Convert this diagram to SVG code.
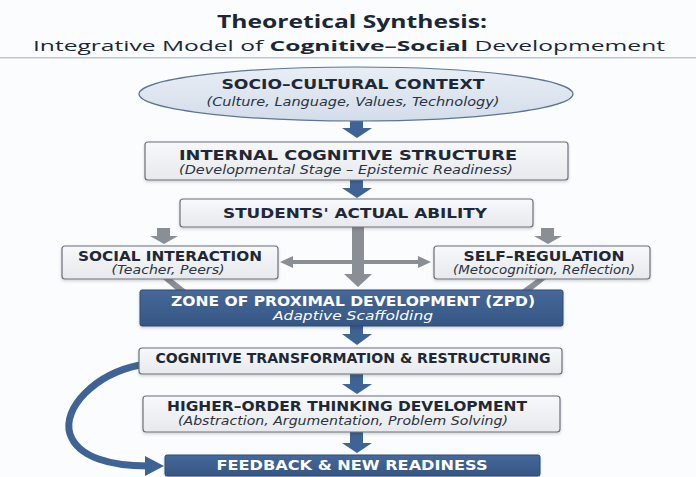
<svg xmlns="http://www.w3.org/2000/svg" width="696" height="477" viewBox="0 0 696 477">
  <defs>
    <linearGradient id="boxFill" x1="0" y1="0" x2="0" y2="1">
      <stop offset="0" stop-color="#f7f8fa"/>
      <stop offset="1" stop-color="#e7e9ec"/>
    </linearGradient>
    <linearGradient id="darkFill" x1="0" y1="0" x2="0" y2="1">
      <stop offset="0" stop-color="#46689a"/>
      <stop offset="1" stop-color="#365683"/>
    </linearGradient>
    <linearGradient id="ellFill" x1="0" y1="0" x2="0" y2="1">
      <stop offset="0" stop-color="#e9eef5"/>
      <stop offset="1" stop-color="#d3ddea"/>
    </linearGradient>
    <filter id="shadow" x="-5%" y="-20%" width="110%" height="150%">
      <feDropShadow dx="0" dy="1.5" stdDeviation="1.5" flood-color="#000" flood-opacity="0.18"/>
    </filter>
  </defs>
  <style>
    .bg { fill: #fbfcfd; }
    .box { fill: url(#boxFill); stroke: #6b717a; stroke-width: 1.2; filter: url(#shadow); }
    .dark { fill: url(#darkFill); stroke: #2f4b74; stroke-width: 1; filter: url(#shadow); }
    .head { font-family: "DejaVu Sans", Verdana, sans-serif; font-weight: bold; font-size: 13.5px; fill: #1e2836; text-anchor: middle; }
    .sub { font-family: "DejaVu Sans", Verdana, sans-serif; font-style: italic; font-size: 12px; fill: #2a3442; text-anchor: middle; }
    .light { fill: #ffffff; }
    .blue { fill: #3f6394; }
    .gray { fill: #8a8e95; }
    .title { font-family: "Open Sans", "Liberation Sans", sans-serif; font-weight: bold; font-size: 18px; fill: #1c2736; text-anchor: middle; }
    .subtitle { font-family: "Open Sans", "Liberation Sans", sans-serif; font-size: 15px; fill: #1c2736; text-anchor: middle; }
  </style>

  <rect class="bg" x="0" y="0" width="696" height="477"/>

  <!-- heading -->
  <g id="heading">
    <text class="title" x="352" y="28" textLength="270" lengthAdjust="spacingAndGlyphs">Theoretical Synthesis:</text>
    <text class="subtitle" x="349" y="51" textLength="632" lengthAdjust="spacingAndGlyphs">Integrative Model of <tspan font-weight="bold">Cognitive–Social</tspan> Developmement</text>
    <rect x="0" y="57" width="696" height="1.5" fill="#b9c6d6"/>
  </g>

  <!-- connectors -->
  <g id="connectors">
    <!-- blue down arrows on the main axis -->
    <path class="blue" d="M350,121 h13 v7 h9 l-15,10 l-15,-10 h8 z"/>
    <path class="blue" d="M350,180 h13 v8 h9 l-15,10 l-15,-10 h8 z"/>
    <path class="blue" d="M350,326 h13 v8 h9 l-15,11 l-15,-11 h8 z"/>
    <path class="blue" d="M350,374 h13 v10 h9 l-15,10 l-15,-10 h8 z"/>
    <path class="blue" d="M350,432 h13 v11 h9 l-15,10 l-15,-10 h8 z"/>

    <!-- gray arrows from actual ability -->
    <path class="gray" d="M352,227 h12 v47 h8 l-14,13 l-14,-13 h8 z"/>
    <path class="gray" d="M157,228 h13 v8 h8 l-14,8 l-14,-8 h7 z"/>
    <path class="gray" d="M541,228 h13 v8 h8 l-14,8 l-14,-8 h7 z"/>
    <!-- two-way arrow between the side boxes -->
    <path class="gray" d="M280,262 l13,-6 v4 h125 v-4 l13,6 l-13,6 v-4 h-125 v4 z"/>
    <!-- side boxes feeding the ZPD -->
    <path class="gray" d="M163,279 h9 l14,11 h-10 z"/>
    <path class="gray" d="M537,279 h9 l-14,11 h-10 z"/>

    <!-- feedback loop -->
    <path d="M140,365 C 95,374 62,408 70,434 C 78,458 112,466 148,466" fill="none" stroke="#3f6394" stroke-width="7"/>
    <path class="blue" d="M145,456 L164,466 L145,476 z"/>
  </g>

  <g id="context">
    <ellipse cx="356" cy="94" rx="217" ry="27" fill="url(#ellFill)" stroke="#5f7593" stroke-width="1.2"/>
    <text class="head" x="353" y="89" textLength="263" lengthAdjust="spacingAndGlyphs">SOCIO–CULTURAL CONTEXT</text>
    <text class="sub" x="353" y="106" textLength="293" lengthAdjust="spacingAndGlyphs">(Culture, Language, Values, Technology)</text>
  </g>

  <g id="cognitive-structure">
    <rect class="box" x="145" y="142" width="423" height="38" rx="3"/>
    <text class="head" x="348" y="160" textLength="338" lengthAdjust="spacingAndGlyphs">INTERNAL COGNITIVE STRUCTURE</text>
    <text class="sub" x="346" y="174" textLength="334" lengthAdjust="spacingAndGlyphs">(Developmental Stage – Epistemic Readiness)</text>
  </g>

  <g id="actual-ability">
    <rect class="box" x="180" y="199" width="353" height="28" rx="3"/>
    <text class="head" x="355" y="218" textLength="264" lengthAdjust="spacingAndGlyphs">STUDENTS' ACTUAL ABILITY</text>
  </g>

  <g id="social-interaction">
    <rect class="box" x="62" y="246" width="216" height="33" rx="3"/>
    <text class="head" x="170" y="261" textLength="184" lengthAdjust="spacingAndGlyphs">SOCIAL INTERACTION</text>
    <text class="sub" x="168" y="274" textLength="113" lengthAdjust="spacingAndGlyphs">(Teacher, Peers)</text>
  </g>

  <g id="self-regulation">
    <rect class="box" x="434" y="246" width="216" height="33" rx="3"/>
    <text class="head" x="544" y="261" textLength="161" lengthAdjust="spacingAndGlyphs">SELF–REGULATION</text>
    <text class="sub" x="544" y="274" textLength="182" lengthAdjust="spacingAndGlyphs">(Metocognition, Reflection)</text>
  </g>

  <g id="zpd">
    <rect class="dark" x="140" y="290" width="423" height="36" rx="2"/>
    <text class="head light" x="353" y="306" textLength="364" lengthAdjust="spacingAndGlyphs">ZONE OF PROXIMAL DEVELOPMENT (ZPD)</text>
    <text class="sub light" x="353" y="320" textLength="160" lengthAdjust="spacingAndGlyphs">Adaptive Scaffolding</text>
  </g>

  <g id="transformation">
    <rect class="box" x="139" y="348" width="423" height="26" rx="3"/>
    <text class="head" x="353" y="363" font-size="12.5" textLength="395" lengthAdjust="spacingAndGlyphs">COGNITIVE TRANSFORMATION &amp; RESTRUCTURING</text>
  </g>

  <g id="higher-order">
    <rect class="box" x="143" y="396" width="417" height="36" rx="3"/>
    <text class="head" x="347" y="411" textLength="360" lengthAdjust="spacingAndGlyphs">HIGHER–ORDER THINKING DEVELOPMENT</text>
    <text class="sub" x="343" y="425" textLength="330" lengthAdjust="spacingAndGlyphs">(Abstraction, Argumentation, Problem Solving)</text>
  </g>

  <g id="feedback">
    <rect class="dark" x="165" y="455" width="375" height="21" rx="2"/>
    <text class="head light" x="352" y="470" textLength="271" lengthAdjust="spacingAndGlyphs">FEEDBACK &amp; NEW READINESS</text>
  </g>
</svg>
